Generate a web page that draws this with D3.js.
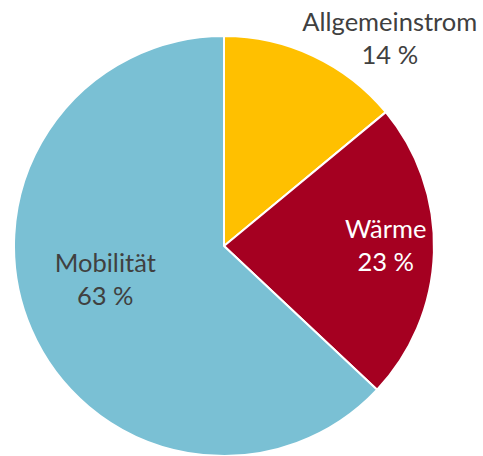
<!DOCTYPE html>
<html><head><meta charset="utf-8">
<script src="https://cdn.jsdelivr.net/npm/d3@7"></script>
<style>body{margin:0;background:#fff}svg{display:block}</style>
</head><body>
<svg id="c" width="483" height="456"></svg>
<script>
const categories = ["Allgemeinstrom", "Wärme", "Mobilität"];
const values = [14, 23, 63];
const colors = ["#FFC000", "#A50021", "#7AC0D4"];
const textColors = ["#404040", "#FFFFFF", "#404040"];

const W = 483, H = 456;
const cx = 224, cy = 246, R = 210;
const svg = d3.select("#c");
const g = svg.append("g").attr("transform", `translate(${cx},${cy})`);

const pie = d3.pie().sort(null).value(d => d)(values);
const arc = d3.arc().innerRadius(0).outerRadius(R);

g.selectAll("path").data(pie).join("path")
  .attr("d", arc)
  .attr("fill", (d, i) => colors[i])
  .attr("stroke", "#fff").attr("stroke-width", 2).attr("stroke-linejoin", "round");

// label placement (radius and angular shift per slice, Excel "best fit" look)
const labelR = [259, 162, 126];
const labelShift = [0.255, 0.018, 0.067];
const fontSize = 25.5, lineGap = 33;
pie.forEach((d, i) => {
  const a = (d.startAngle + d.endAngle) / 2 + labelShift[i];
  const x = labelR[i] * Math.sin(a), y = -labelR[i] * Math.cos(a);
  const t = g.append("text")
    .attr("text-anchor", "middle")
    .attr("font-family", "Lato, 'Open Sans', sans-serif")
    .attr("font-size", fontSize)
    .attr("fill", textColors[i]);
  t.append("tspan").attr("x", x).attr("y", y - lineGap / 2).text(categories[i]);
  t.append("tspan").attr("x", x).attr("y", y + lineGap / 2).text(values[i] + " %");
});
</script>
</body></html>
